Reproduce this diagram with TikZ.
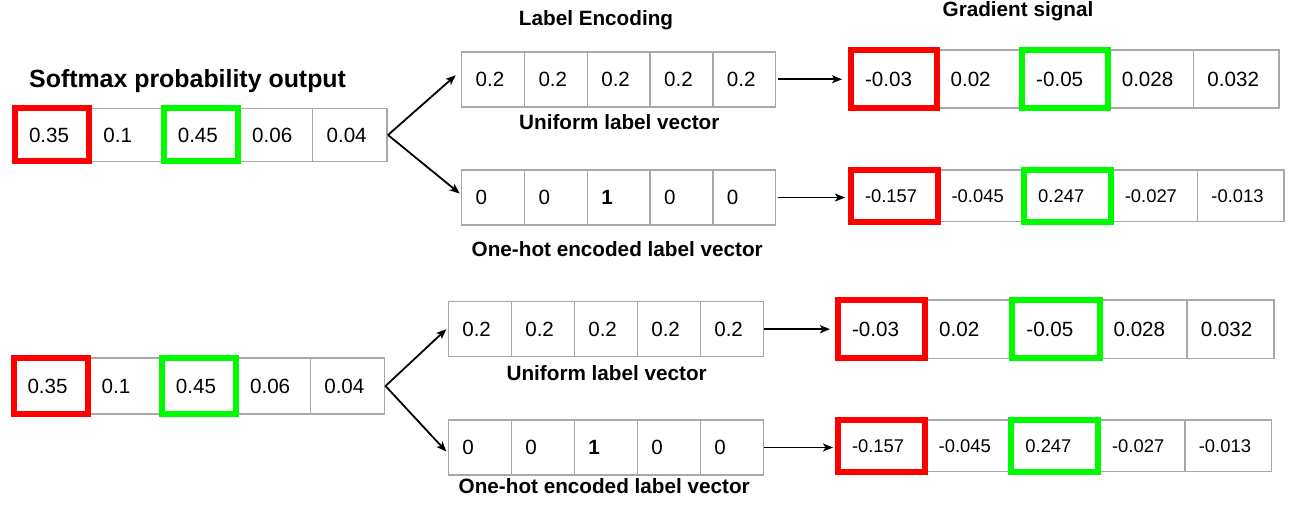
\documentclass[tikz,border=0pt]{standalone}
\usepackage{fontspec}
\setmainfont{Liberation Sans}
\usetikzlibrary{arrows.meta}
\definecolor{cellgray}{RGB}{168,168,168}
\definecolor{hred}{RGB}{255,0,0}
\definecolor{hgreen}{RGB}{0,250,0}
\tikzset{
  cell/.style={draw=cellgray, line width=1.5pt, rectangle, outer sep=0pt, inner xsep=14pt, inner ysep=0pt, align=left},
  hlred/.style={draw=hred, line width=6pt},
  hlgreen/.style={draw=hgreen, line width=6pt},
  lbl/.style={font=\bfseries\fontsize{20.7}{24}\selectfont, anchor=base, inner sep=0pt},
  conn/.style={draw=black, line width=1.8pt, -{Stealth[length=10pt,width=8pt,inset=2.5pt]}},
}
\newcommand{\cellrow}[7]{%
  \pgfmathsetmacro{\tw}{#4-28}%
  \foreach \v [count=\i] in {#7} {
    \node[cell, minimum width=#4pt, minimum height=#5pt, text width=\tw pt,
          font=\fontsize{#6}{#6}\selectfont] (#1c\i) at ({#2+(\i-0.5)*#4}, #3) {\v};
  }}
\begin{document}
\begin{tikzpicture}[x=1pt, y=-1pt]
\useasboundingbox (0,0) rectangle (1290,505);

% ---------- top half ----------
\node[font=\bfseries\fontsize{24.9}{28}\selectfont, anchor=base west, inner sep=0pt] (title) at (29,88) {Softmax probability output};
\node[lbl] (lenc) at (596,25.7) {Label Encoding};
\node[lbl] (gsig) at (1018,17) {Gradient signal};

\cellrow{s1}{15}{135}{74.4}{53}{20.6}{0.35,0.1,0.45,0.06,0.04}
\cellrow{u1}{461.7}{79.3}{62.8}{55}{20.6}{0.2,0.2,0.2,0.2,0.2}
\cellrow{o1}{461.7}{197.5}{62.8}{55}{20.6}{0,0,{\bfseries 1},0,0}
\cellrow{gu1}{851}{79}{85.6}{58}{20.6}{-0.03,0.02,-0.05,0.028,0.032}
\cellrow{go1}{851}{195.8}{86.6}{51.7}{18.4}{-0.157,-0.045,0.247,-0.027,-0.013}

\node[lbl] (ulab1) at (619.3,130) {Uniform label vector};
\node[lbl] (olab1) at (617.2,256) {One-hot encoded label vector};

\draw[hlred] (s1c1.south west) rectangle (s1c1.north east);
\draw[hlgreen] (s1c3.south west) rectangle (s1c3.north east);
\draw[hlred] (gu1c1.south west) rectangle (gu1c1.north east);
\draw[hlgreen] (gu1c3.south west) rectangle (gu1c3.north east);
\draw[hlred] (go1c1.south west) rectangle (go1c1.north east);
\draw[hlgreen] (go1c3.south west) rectangle (go1c3.north east);

\draw[conn] ([xshift=1pt]s1c5.east) -- ([xshift=-6pt,yshift=4pt]u1c1.west);
\draw[conn] ([xshift=1pt]s1c5.east) -- ([xshift=-2pt,yshift=4pt]o1c1.west);
\draw[conn, shorten <=2pt, shorten >=9pt] (u1c5.east) -- (u1c5.east -| gu1c1.west);
\draw[conn, shorten <=2pt, shorten >=6pt] (o1c5.east) -- (o1c5.east -| go1c1.west);

% ---------- bottom half ----------
\cellrow{s2}{13.5}{386}{74.2}{55.7}{20.6}{0.35,0.1,0.45,0.06,0.04}
\cellrow{u2}{448.3}{329.2}{63}{55}{20.6}{0.2,0.2,0.2,0.2,0.2}
\cellrow{o2}{448.3}{447.5}{63}{55}{20.6}{0,0,{\bfseries 1},0,0}
\cellrow{gu2}{838}{329.2}{87.2}{58.3}{20.6}{-0.03,0.02,-0.05,0.028,0.032}
\cellrow{go2}{838}{445.8}{86.7}{51.7}{18.4}{-0.157,-0.045,0.247,-0.027,-0.013}

\node[lbl] (ulab2) at (606.7,380) {Uniform label vector};
\node[lbl] (olab2) at (604.2,493.3) {One-hot encoded label vector};

\draw[hlred] (s2c1.south west) rectangle (s2c1.north east);
\draw[hlgreen] (s2c3.south west) rectangle (s2c3.north east);
\draw[hlred] (gu2c1.south west) rectangle (gu2c1.north east);
\draw[hlgreen] (gu2c3.south west) rectangle (gu2c3.north east);
\draw[hlred] (go2c1.south west) rectangle (go2c1.north east);
\draw[hlgreen] (go2c3.south west) rectangle (go2c3.north east);

\draw[conn] ([xshift=1pt]s2c5.east) -- ([xshift=-2pt]u2c1.west);
\draw[conn] ([xshift=1pt]s2c5.east) -- ([xshift=-2pt,yshift=-4pt]o2c1.west);
\draw[conn, shorten <=1pt, shorten >=8pt] (u2c5.east) -- (u2c5.east -| gu2c1.west);
\draw[conn, shorten <=1pt, shorten >=5pt] (o2c5.east) -- (o2c5.east -| go2c1.west);
\end{tikzpicture}
\end{document}
